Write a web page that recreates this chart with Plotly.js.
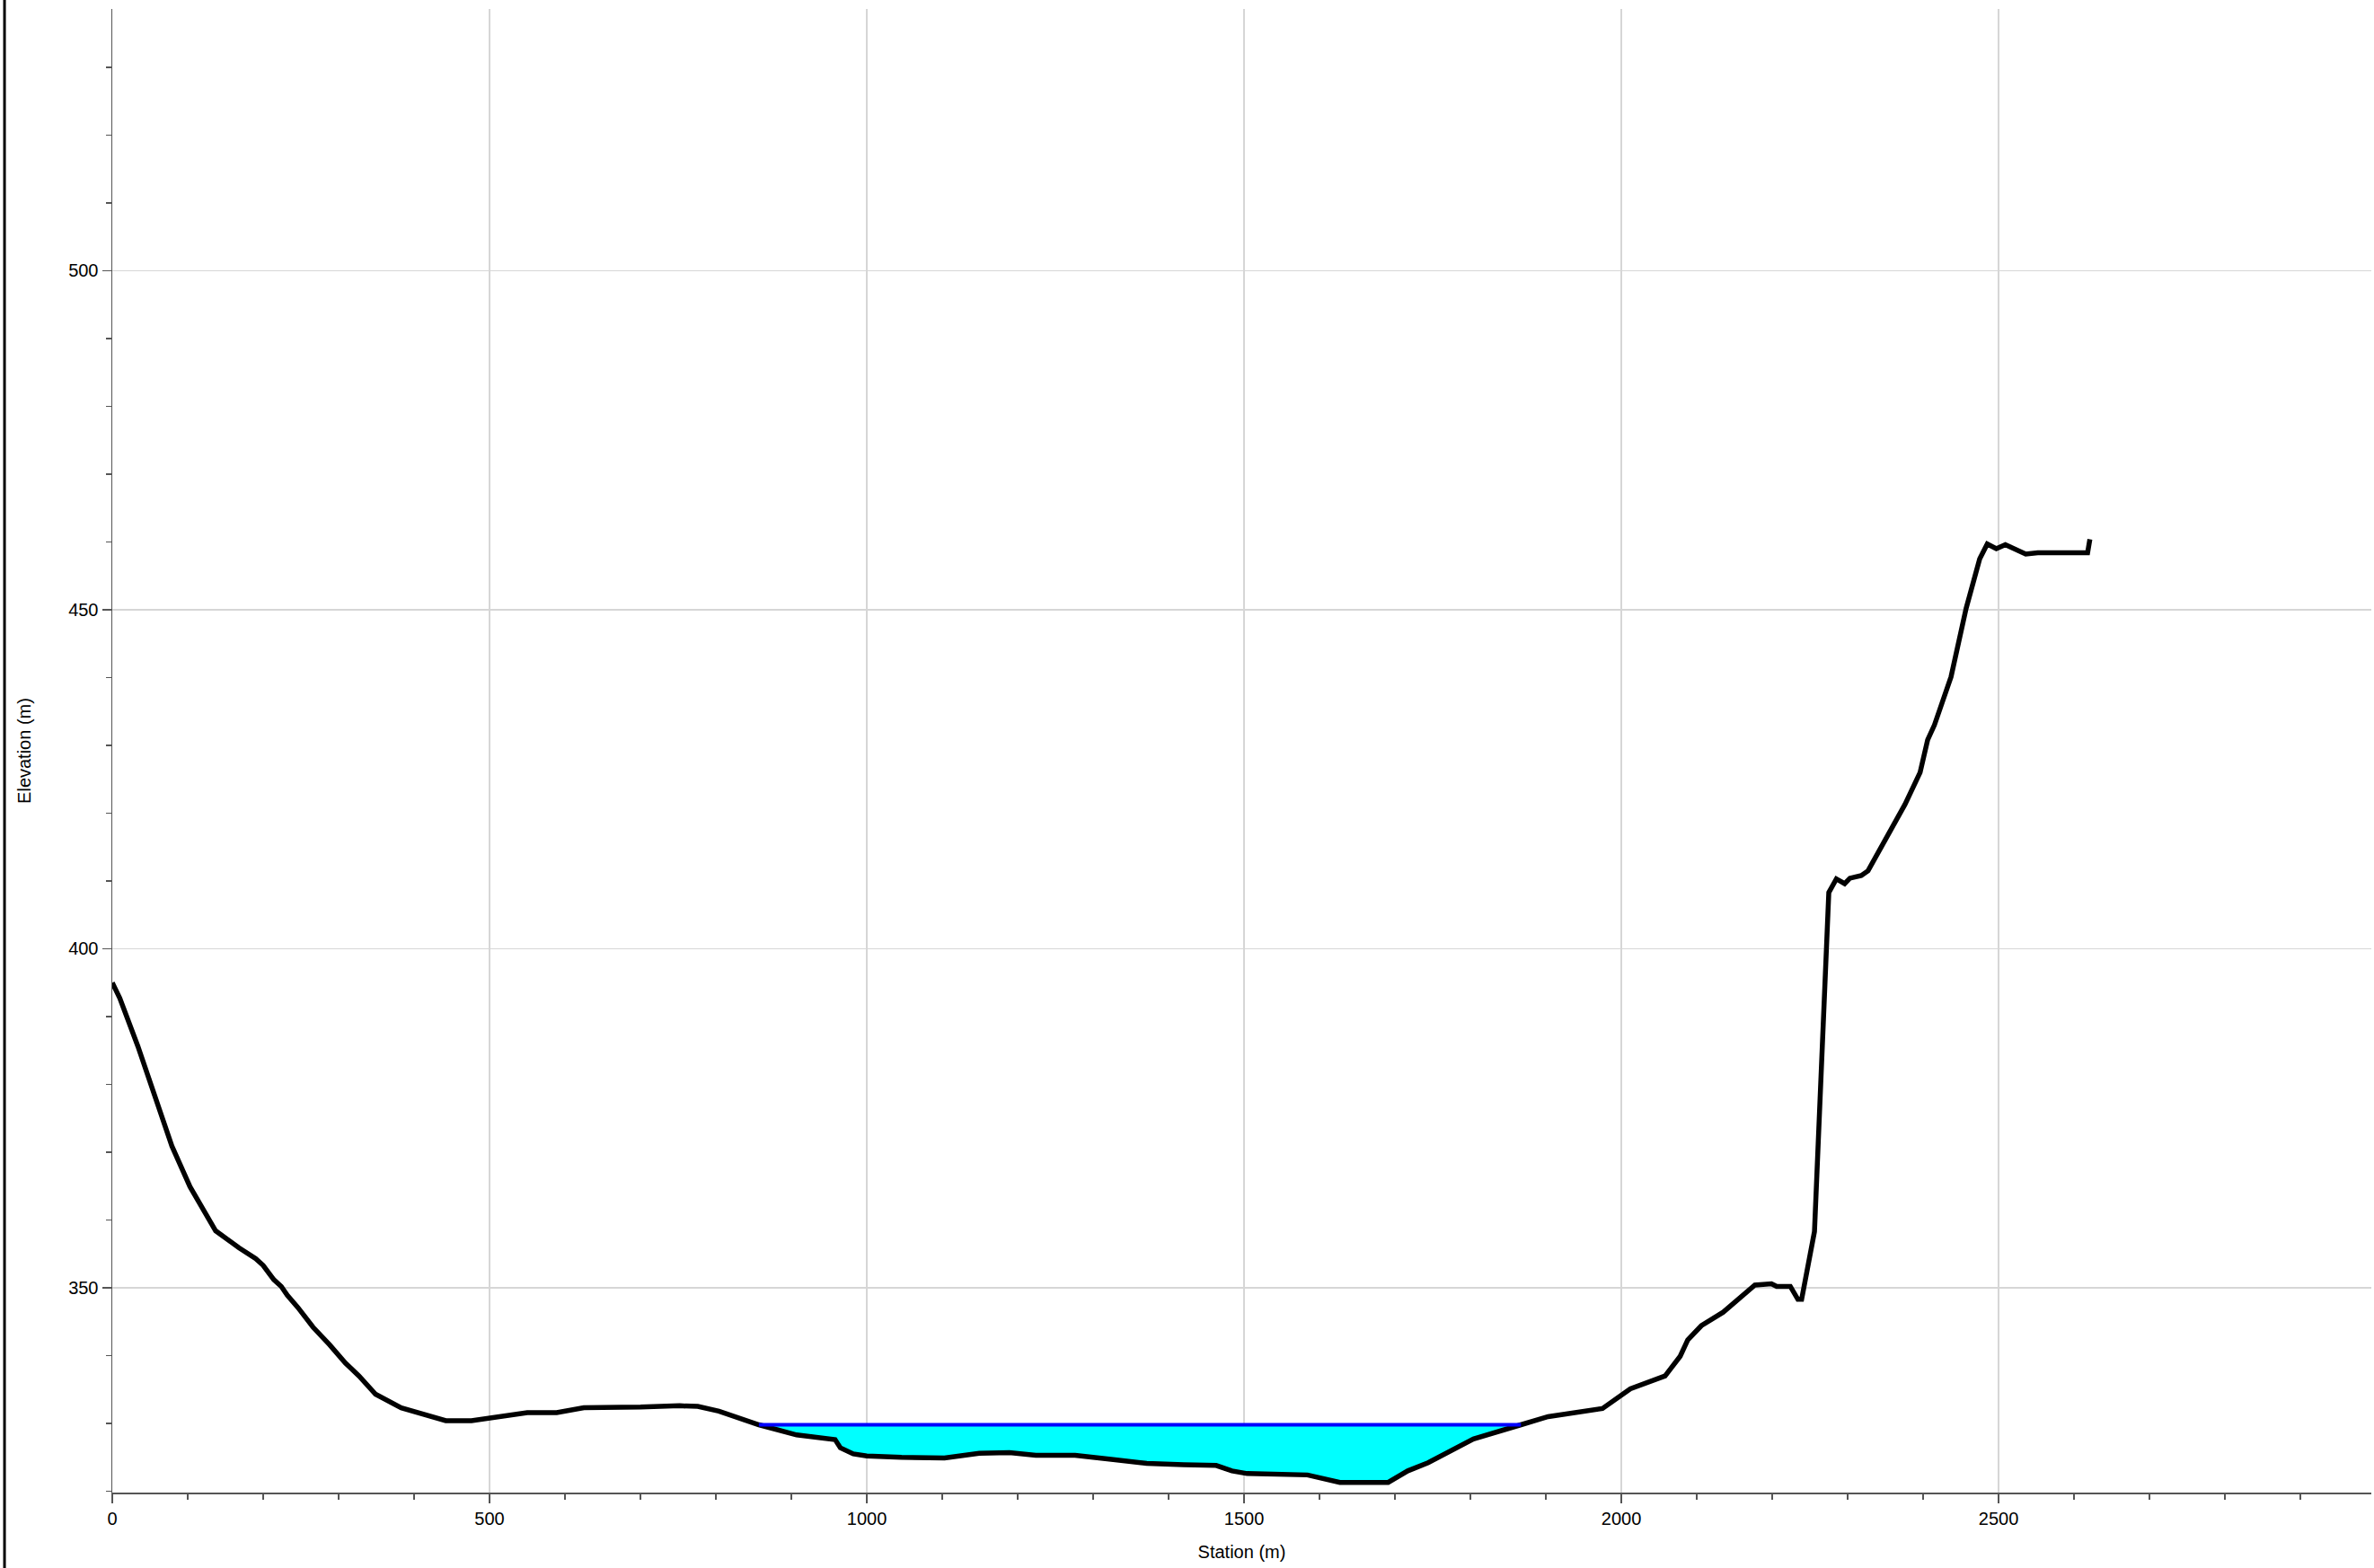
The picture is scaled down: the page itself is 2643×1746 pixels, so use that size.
<!DOCTYPE html>
<html>
<head>
<meta charset="utf-8">
<script src="https://cdn.plot.ly/plotly-3.0.1.min.js"></script>
<style>
  html, body { margin: 0; padding: 0; background: #ffffff; }
  #chart { width: 2643px; height: 1746px; }
</style>
</head>
<body>
<div id="chart"></div>
<script>
// Ground profile: station (m) and elevation (m)
const station = [0, 10, 34, 57, 79, 103, 137, 168, 190, 200, 214, 224, 232, 246, 266, 288, 309, 327, 349, 383,
  442, 476, 500, 550, 589, 625, 700, 752, 776, 804, 857, 907, 958, 965, 982, 1000, 1046, 1103, 1149, 1189,
  1224, 1276, 1324, 1371, 1420, 1463, 1484, 1504, 1584, 1627, 1691, 1717, 1744, 1804, 1867, 1903, 1975, 2012, 2058, 2078,
  2088, 2106, 2135, 2177, 2199, 2206, 2224, 2234, 2239, 2256, 2275, 2285, 2296, 2303, 2318, 2327, 2376, 2396, 2406, 2415,
  2437, 2457, 2475, 2485, 2497, 2509, 2536, 2552, 2590, 2618, 2621];
const elevation = [395.0, 392.7, 385.6, 378.0, 370.9, 364.9, 358.4, 355.9, 354.3, 353.3, 351.2, 350.2, 348.9, 347.1, 344.2, 341.6, 338.9, 337.0, 334.3, 332.3,
  330.4, 330.4, 330.8, 331.6, 331.6, 332.3, 332.4, 332.6, 332.5, 331.8, 329.8, 328.3, 327.6, 326.4, 325.5, 325.2, 325.0, 324.9, 325.6, 325.7,
  325.3, 325.3, 324.7, 324.1, 323.9, 323.8, 323.0, 322.6, 322.4, 321.3, 321.3, 323.0, 324.2, 327.7, 329.8, 331.0, 332.2, 335.1, 337.0, 339.9,
  342.3, 344.4, 346.4, 350.4, 350.6, 350.2, 350.2, 348.3, 348.3, 358.3, 408.3, 410.3, 409.6, 410.4, 410.8, 411.5, 421.3, 426.0, 430.8, 433.0,
  440.1, 450.2, 457.5, 459.7, 459.0, 459.6, 458.2, 458.4, 458.4, 458.4, 460.4];

// Water surface
const wsStation = [857, 1867];
const wsElevation = [329.8, 329.8];

// Axis ranges
const xRange = [0, 2994];
const yRange = [319.8, 538.6];

// Build water polygon (ground inside channel + water surface back)
const fillX = [], fillY = [];
for (let i = 0; i < station.length; i++) {
  if (station[i] >= wsStation[0] && station[i] <= wsStation[1]) {
    fillX.push(station[i]); fillY.push(elevation[i]);
  }
}
fillX.push(wsStation[1], wsStation[0]);
fillY.push(wsElevation[1], wsElevation[0]);

const traces = [
  { x: fillX, y: fillY, type: 'scatter', mode: 'lines', fill: 'toself',
    fillcolor: '#00FFFF', line: { width: 0, color: '#00FFFF' }, hoverinfo: 'skip' },
  { x: station, y: elevation, type: 'scatter', mode: 'lines',
    line: { color: '#000000', width: 5.5 } },
  { x: wsStation, y: wsElevation, type: 'scatter', mode: 'lines',
    line: { color: '#0000FF', width: 4 } }
];

const axisFont = { family: 'Liberation Sans, Arial, sans-serif', size: 20, color: '#000000' };

const layout = {
  width: 2643, height: 1746,
  margin: { l: 125, r: 3, t: 10, b: 84, pad: 0 },
  paper_bgcolor: '#ffffff', plot_bgcolor: '#ffffff',
  showlegend: false,
  font: axisFont,
  xaxis: {
    range: xRange, autorange: false,
    tick0: 0, dtick: 500,
    showgrid: true, gridcolor: '#d6d6d6', gridwidth: 1.5,
    zeroline: false,
    showline: true, linecolor: '#555555', linewidth: 1.5,
    ticks: 'outside', ticklen: 10, tickwidth: 1.5, tickcolor: '#555555',
    minor: { dtick: 100, tick0: 0, ticks: 'outside', ticklen: 6, tickwidth: 1.2, tickcolor: '#555555', showgrid: false },
    tickfont: axisFont,
    title: { text: 'Station (m)', font: axisFont, standoff: 20 }
  },
  yaxis: {
    range: yRange, autorange: false,
    tick0: 0, dtick: 50,
    showgrid: true, gridcolor: '#d6d6d6', gridwidth: 1.5,
    zeroline: false,
    showline: true, linecolor: '#555555', linewidth: 1.5,
    ticks: 'outside', ticklen: 10, tickwidth: 1.5, tickcolor: '#555555',
    minor: { dtick: 10, tick0: 0, ticks: 'outside', ticklen: 6, tickwidth: 1.2, tickcolor: '#555555', showgrid: false },
    tickfont: axisFont,
    title: { text: 'Elevation (m)', font: axisFont, standoff: 36 }
  },
  shapes: [
    { type: 'line', xref: 'paper', yref: 'paper',
      x0: -0.0477, x1: -0.0477, y0: -0.06, y1: 1.01,
      line: { color: '#000000', width: 3 }, layer: 'above' }
  ]
};

Plotly.newPlot('chart', traces, layout, { displayModeBar: false, staticPlot: true });
</script>
</body>
</html>
